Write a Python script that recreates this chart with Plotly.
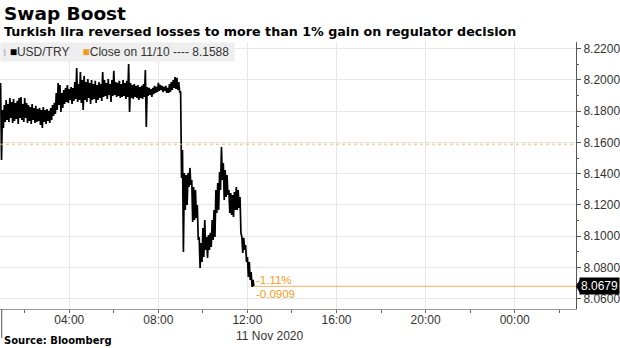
import plotly.graph_objects as go
import pandas as pd

# ---------------- data ----------------
start_time = "2020-11-11 00:55"
step_minutes = 5
prev_close = 8.1588
last_price = 8.0679

# 5-minute high / low of USD/TRY
hi = [8.1981, 8.1808, 8.1840, 8.1872, 8.1846, 8.1885, 8.1859, 8.1878, 8.1853, 8.1866,
      8.1885, 8.1891, 8.1846, 8.1885, 8.1853, 8.1840, 8.1827, 8.1846, 8.1821, 8.1834,
      8.1814, 8.1821, 8.1808, 8.1827, 8.1808, 8.1814, 8.1802, 8.1821, 8.1840, 8.1853,
      8.1917, 8.1981, 8.1968, 8.1917, 8.1936, 8.1949, 8.1968, 8.1942, 8.1955, 8.1949,
      8.1987, 8.2077, 8.1974, 8.2051, 8.2000, 8.2026, 8.1987, 8.2006, 8.1981, 8.2000,
      8.1974, 8.1994, 8.1968, 8.1987, 8.1974, 8.2051, 8.2000, 8.1981, 8.2006, 8.1974,
      8.2000, 8.2058, 8.1987, 8.1981, 8.1994, 8.1974, 8.2000, 8.1981, 8.1994, 8.2102,
      8.1981, 8.1968, 8.1974, 8.1962, 8.1968, 8.1955, 8.1962, 8.1974, 8.2064, 8.1955,
      8.1949, 8.1942, 8.1949, 8.1962, 8.1955, 8.1981, 8.1968, 8.1962, 8.1955, 8.1962,
      8.1949, 8.1974, 8.1987, 8.2000, 8.2019, 8.2013, 8.1987, 8.1923, 8.1552, 8.1405,
      8.1392, 8.1405, 8.1437, 8.1360, 8.1315, 8.1296, 8.1200, 8.0995, 8.0957, 8.1053,
      8.1104, 8.0995, 8.1008, 8.1021, 8.1104, 8.1168, 8.1296, 8.1341, 8.1411, 8.1571,
      8.1469, 8.1424, 8.1392, 8.1296, 8.1277, 8.1264, 8.1283, 8.1315, 8.1296, 8.1251,
      8.0995, 8.0989, 8.0944, 8.0867, 8.0835, 8.0771, 8.0720]
lo = [8.1488, 8.1693, 8.1731, 8.1744, 8.1731, 8.1757, 8.1725, 8.1738, 8.1750, 8.1718,
      8.1757, 8.1744, 8.1731, 8.1757, 8.1725, 8.1738, 8.1718, 8.1744, 8.1725, 8.1731,
      8.1738, 8.1712, 8.1693, 8.1731, 8.1718, 8.1738, 8.1725, 8.1744, 8.1770, 8.1782,
      8.1808, 8.1840, 8.1795, 8.1821, 8.1846, 8.1859, 8.1853, 8.1872, 8.1846, 8.1866,
      8.1878, 8.1859, 8.1872, 8.1853, 8.1808, 8.1872, 8.1859, 8.1885, 8.1846, 8.1872,
      8.1878, 8.1853, 8.1872, 8.1885, 8.1866, 8.1891, 8.1898, 8.1878, 8.1904, 8.1859,
      8.1898, 8.1904, 8.1891, 8.1898, 8.1885, 8.1891, 8.1898, 8.1878, 8.1891, 8.1795,
      8.1885, 8.1878, 8.1891, 8.1885, 8.1872, 8.1885, 8.1878, 8.1891, 8.1699, 8.1898,
      8.1904, 8.1891, 8.1910, 8.1917, 8.1923, 8.1930, 8.1936, 8.1923, 8.1930, 8.1917,
      8.1917, 8.1923, 8.1936, 8.1949, 8.1942, 8.1936, 8.1923, 8.1373, 8.0899, 8.1168,
      8.1200, 8.1315, 8.1328, 8.1091, 8.1104, 8.1117, 8.0976, 8.0797, 8.0835, 8.0867,
      8.0912, 8.0861, 8.0912, 8.0931, 8.0976, 8.0995, 8.1149, 8.1168, 8.1296, 8.1360,
      8.1232, 8.1251, 8.1264, 8.1149, 8.1136, 8.1123, 8.1168, 8.1168, 8.1181, 8.1021,
      8.0893, 8.0912, 8.0835, 8.0739, 8.0720, 8.0675, 8.0679]

y_ticks = [8.06, 8.08, 8.10, 8.12, 8.14, 8.16, 8.18, 8.20, 8.22]
x_range = ["2020-11-11 00:53:25", "2020-11-12 02:45:07"]
y_range = [8.0534, 8.2243]

# ---------------- build zig-zag from hi/lo bars ----------------
t0 = pd.Timestamp(start_time)
xs, ys = [], []
for i, (h, l) in enumerate(zip(hi, lo)):
    t = t0 + pd.Timedelta(minutes=step_minutes * i)
    xs += [t, t + pd.Timedelta(minutes=step_minutes / 2)]
    ys += [h, l]
last_t = xs[-1]

change = last_price - prev_close
pct = change / prev_close * 100

ORANGE = "#f29b1d"
TXT = "#333333"
FONT = "Liberation Sans"

W, H = 620, 348
ML, MR, MT, MB = 0, 42, 42, 39
PH = H - MT - MB
PW = W - ML - MR


def py(px_from_top):
    """convert a pixel row of the page to paper y"""
    return (H - MB - px_from_top) / PH


fig = go.Figure()
fig.add_trace(go.Scatter(x=xs, y=ys, mode="lines",
                         line=dict(color="black", width=1.7),
                         hoverinfo="skip", showlegend=False))

# previous close (dotted) and last price line
fig.add_shape(type="line", xref="paper", x0=0, x1=1, yref="y",
              y0=prev_close, y1=prev_close,
              line=dict(color="rgba(244,178,105,0.6)", width=1.6, dash="dot"))
fig.add_shape(type="line", xref="x", x0=last_t, x1=x_range[1], yref="y",
              y0=last_price, y1=last_price,
              line=dict(color="#f5b060", width=1))

# change labels
fig.add_annotation(x=last_t, y=last_price, xref="x", yref="y",
                   text=f"-{abs(pct):.2f}%", showarrow=False,
                   xanchor="left", yanchor="bottom", xshift=0, yshift=-2,
                   font=dict(family=FONT, size=11.5, color=ORANGE))
fig.add_annotation(x=last_t, y=last_price, xref="x", yref="y",
                   text=f"{change:.4f}", showarrow=False,
                   xanchor="left", yanchor="top", xshift=0, yshift=0,
                   font=dict(family=FONT, size=11.5, color=ORANGE))

# last price box on axis
fig.add_annotation(x=1, y=last_price, xref="paper", yref="y",
                   text=f"{last_price:.4f}", showarrow=False,
                   xanchor="left", yanchor="middle", xshift=3,
                   bgcolor="black", borderpad=1,
                   font=dict(family=FONT, size=12, color="white"))
fig.add_shape(type="path", xref="paper", yref="y", xsizemode="pixel",
              ysizemode="pixel", xanchor=1, yanchor=last_price,
              path="M 0,0 L 4,-7 L 4,7 Z", fillcolor="black",
              line=dict(width=0))

# legend box
fig.add_annotation(x=0, y=1, xref="paper", yref="paper",
                   xanchor="left", yanchor="top", showarrow=False,
                   text=('<span style="color:#b0b0b0">ı</span> '
                         '<span style="color:black">■</span>USD/TRY    '
                         f'<span style="color:{ORANGE}">■</span>'
                         f'Close on 11/10 ---- {prev_close:.4f} '),
                   bgcolor="#eeeeee", borderpad=2,
                   font=dict(family=FONT, size=12, color=TXT))

# day label
fig.add_annotation(x=270 / PW, y=py(327), xref="paper", yref="paper",
                   text="11 Nov 2020", showarrow=False,
                   xanchor="center", yanchor="top",
                   font=dict(family=FONT, size=12, color=TXT))

# left day-divider tick
fig.add_shape(type="line", xref="paper", x0=0.003, x1=0.003, yref="paper",
              y0=0, y1=py(338), line=dict(color="#555555", width=1))

# titles and source
fig.add_annotation(x=0.003, y=py(1), xref="paper", yref="paper",
                   xanchor="left", yanchor="top", showarrow=False,
                   text="<b>Swap Boost</b>",
                   font=dict(family="DejaVu Sans", size=18.5, color="black"))
fig.add_annotation(x=0.003, y=py(22), xref="paper", yref="paper",
                   xanchor="left", yanchor="top", showarrow=False,
                   text="<b>Turkish lira reversed losses to more than 1% gain on regulator decision</b>",
                   font=dict(family="DejaVu Sans", size=12.7, color="black"))
fig.add_annotation(x=0.004, y=py(348), xref="paper", yref="paper",
                   xanchor="left", yanchor="bottom", showarrow=False,
                   text="<b>Source: Bloomberg</b>",
                   font=dict(family="DejaVu Sans", size=10, color="black"))

fig.update_layout(
    width=W, height=H,
    margin=dict(l=ML, r=MR, t=MT, b=MB),
    paper_bgcolor="white", plot_bgcolor="white",
    showlegend=False,
    font=dict(family=FONT, size=11, color=TXT),
    xaxis=dict(type="date", range=x_range,
               tick0="2020-11-11 00:00", dtick=4 * 3600 * 1000,
               tickformat="%H:%M", ticks="outside", ticklen=3,
               ticklabelstandoff=-3,
               tickcolor="#666666", showgrid=True, gridcolor="#e6e6e6",
               showline=True, linecolor="#999999", zeroline=False,
               tickfont=dict(family=FONT, size=12, color=TXT),
               minor=dict(dtick=2 * 3600 * 1000, ticks="outside", ticklen=3,
                          tickcolor="#666666", showgrid=False)),
    yaxis=dict(side="right", range=y_range, tickmode="array",
               tickvals=y_ticks, ticktext=[f"{v:.4f}" for v in y_ticks],
               ticks="outside", ticklen=4, tickcolor="#555555",
               showgrid=True, gridcolor="#e6e6e6",
               showline=True, linecolor="#555555", zeroline=False,
               tickfont=dict(family=FONT, size=12, color=TXT),
               minor=dict(dtick=0.01, tick0=8.06, ticks="outside",
                          ticklen=2, tickcolor="#555555", showgrid=False)),
)

fig.write_html("out.html")
